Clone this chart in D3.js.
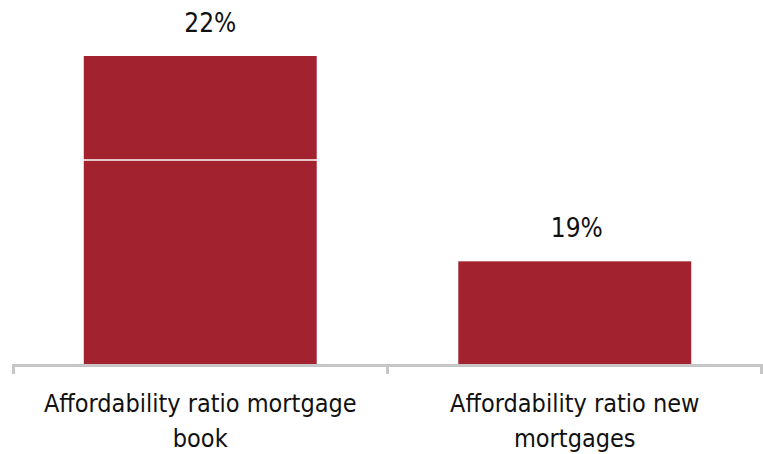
<!DOCTYPE html>
<html>
<head>
<meta charset="utf-8">
<script src="https://cdn.jsdelivr.net/npm/d3@7"></script>
<style>
  html, body { margin: 0; padding: 0; background: #ffffff; }
  svg { display: block; }
  text { font-family: "DejaVu Sans Condensed", "DejaVu Sans", sans-serif; fill: #111111; }
</style>
</head>
<body>
<svg id="chart" width="763" height="454"></svg>
<script>
// Affordability ratios (% of income)
const categories = [
  ["Affordability ratio mortgage", "book"],
  ["Affordability ratio new", "mortgages"]
];
const values = [22, 19];
const valueLabels = ["22%", "19%"];
const gridValues = [20.5];

const svg = d3.select("#chart");
const barColor = "#a2222f";

const x = d3.scaleBand()
  .domain(d3.range(values.length))
  .range([13, 762])
  .paddingInner(0.378)
  .paddingOuter(0.189);

const y = d3.scaleLinear()
  .domain([17.5, 22])
  .range([364, 56]);

// bars
svg.append("g").selectAll("rect")
  .data(values)
  .join("rect")
  .attr("x", (d, i) => x(i))
  .attr("width", x.bandwidth())
  .attr("y", d => y(d))
  .attr("height", d => y.range()[0] - y(d))
  .attr("fill", barColor);

// white gridlines drawn over the bars
svg.append("g").selectAll("line")
  .data(gridValues)
  .join("line")
  .attr("x1", 13).attr("x2", 762)
  .attr("y1", d => Math.round(y(d)) + 1)
  .attr("y2", d => Math.round(y(d)) + 1)
  .attr("stroke", "#ffffff")
  .attr("stroke-width", 1.5);

// value labels (small horizontal nudges keep them clear of the bar centre line)
const labelNudge = [10, 2];
svg.append("g").selectAll("text")
  .data(values)
  .join("text")
  .attr("x", (d, i) => x(i) + x.bandwidth() / 2)
  .attr("dx", (d, i) => labelNudge[i])
  .attr("y", d => y(d) - 24.5)
  .attr("text-anchor", "middle")
  .attr("font-size", 26)
  .text((d, i) => valueLabels[i]);

// category axis: baseline and tick marks at band edges
const axisG = svg.append("g");
const step = x.step();
const edges = d3.range(values.length + 1).map(i => x.range()[0] + i * step);
axisG.append("line")
  .attr("x1", 12).attr("x2", 763)
  .attr("y1", 365.5).attr("y2", 365.5)
  .attr("stroke", "#c6c6c6").attr("stroke-width", 3);
axisG.selectAll("line.tick")
  .data(edges)
  .join("line")
  .attr("class", "tick")
  .attr("x1", d => Math.min(Math.max(d, 13.5), 761.5)).attr("x2", d => Math.min(Math.max(d, 13.5), 761.5))
  .attr("y1", 364).attr("y2", 374)
  .attr("stroke", "#c6c6c6").attr("stroke-width", 3);

// category labels
const labels = svg.append("g").selectAll("text")
  .data(categories)
  .join("text")
  .attr("x", (d, i) => x(i) + x.bandwidth() / 2)
  .attr("y", 412)
  .attr("text-anchor", "middle")
  .attr("font-size", 25);
labels.selectAll("tspan")
  .data(d => d)
  .join("tspan")
  .attr("x", function () { return d3.select(this.parentNode).attr("x"); })
  .attr("dy", (d, i) => i === 0 ? 0 : 35)
  .text(d => d);
</script>
</body>
</html>
